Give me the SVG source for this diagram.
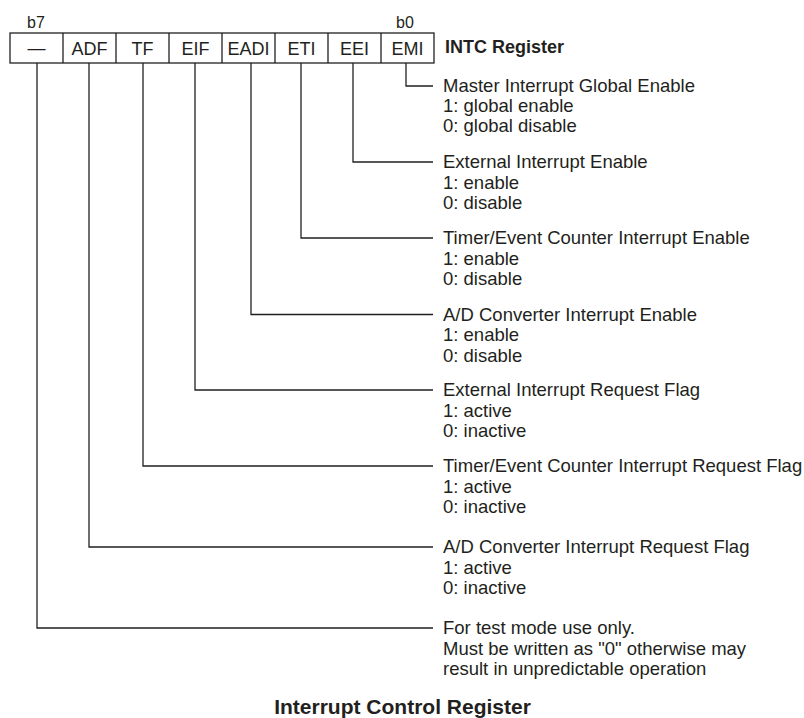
<svg xmlns="http://www.w3.org/2000/svg" width="804" height="718" viewBox="0 0 804 718">
<style>
.t{font-family:"Liberation Sans",Arial,sans-serif;font-size:18px;fill:#231f20}
.d{font-size:18.5px}
.c{text-anchor:middle}
.b{font-weight:bold}
.s{font-size:16px}
.ln{fill:none;stroke:#231f20;stroke-width:1.3}
</style>
<rect width="804" height="718" fill="#fff"/>
<g id="register">
<rect class="ln" x="10" y="33" width="424" height="30"/>
<path class="ln" d="M63 33V63M116 33V63M169 33V63M222 33V63M275 33V63M328 33V63M381 33V63"/>
<text class="t c" x="36.5" y="54">—</text>
<text class="t c" x="89.5" y="55">ADF</text>
<text class="t c" x="142.5" y="55">TF</text>
<text class="t c" x="195.5" y="55">EIF</text>
<text class="t c" x="248.5" y="55">EADI</text>
<text class="t c" x="301.5" y="55">ETI</text>
<text class="t c" x="354.5" y="55">EEI</text>
<text class="t c" x="407.5" y="55">EMI</text>
<text class="t s" x="27" y="28">b7</text>
<text class="t s" x="396" y="28">b0</text>
<text class="t b" x="445" y="53">INTC Register</text>
</g>
<g id="connectors">
<path class="ln" d="M406 63V86H433"/>
<path class="ln" d="M353 63V162H433"/>
<path class="ln" d="M301 63V238H433"/>
<path class="ln" d="M251 63V314.5H433"/>
<path class="ln" d="M195 63V390H433"/>
<path class="ln" d="M143 63V466H433"/>
<path class="ln" d="M89 63V547H433"/>
<path class="ln" d="M37 63V628H433"/>
</g>
<g id="emi" class="t d"><text x="443" y="92">Master Interrupt Global Enable</text><text x="443" y="112">1: global enable</text><text x="443" y="132">0: global disable</text></g>
<g id="eei" class="t d"><text x="443" y="168">External Interrupt Enable</text><text x="443" y="188.5">1: enable</text><text x="443" y="209">0: disable</text></g>
<g id="eti" class="t d"><text x="443" y="244">Timer/Event Counter Interrupt Enable</text><text x="443" y="264.5">1: enable</text><text x="443" y="285">0: disable</text></g>
<g id="eadi" class="t d"><text x="443" y="320.5">A/D Converter Interrupt Enable</text><text x="443" y="341">1: enable</text><text x="443" y="361.5">0: disable</text></g>
<g id="eif" class="t d"><text x="443" y="396">External Interrupt Request Flag</text><text x="443" y="416.5">1: active</text><text x="443" y="437">0: inactive</text></g>
<g id="tf" class="t d"><text x="443" y="472">Timer/Event Counter Interrupt Request Flag</text><text x="443" y="492.5">1: active</text><text x="443" y="513">0: inactive</text></g>
<g id="adf" class="t d"><text x="443" y="553">A/D Converter Interrupt Request Flag</text><text x="443" y="573.5">1: active</text><text x="443" y="594">0: inactive</text></g>
<g id="b7" class="t d"><text x="443" y="634">For test mode use only.</text><text x="443" y="654.5">Must be written as "0" otherwise may</text><text x="443" y="675">result in unpredictable operation</text></g>
<text class="t b c" x="402.5" y="714" style="font-size:21px">Interrupt Control Register</text>
</svg>
